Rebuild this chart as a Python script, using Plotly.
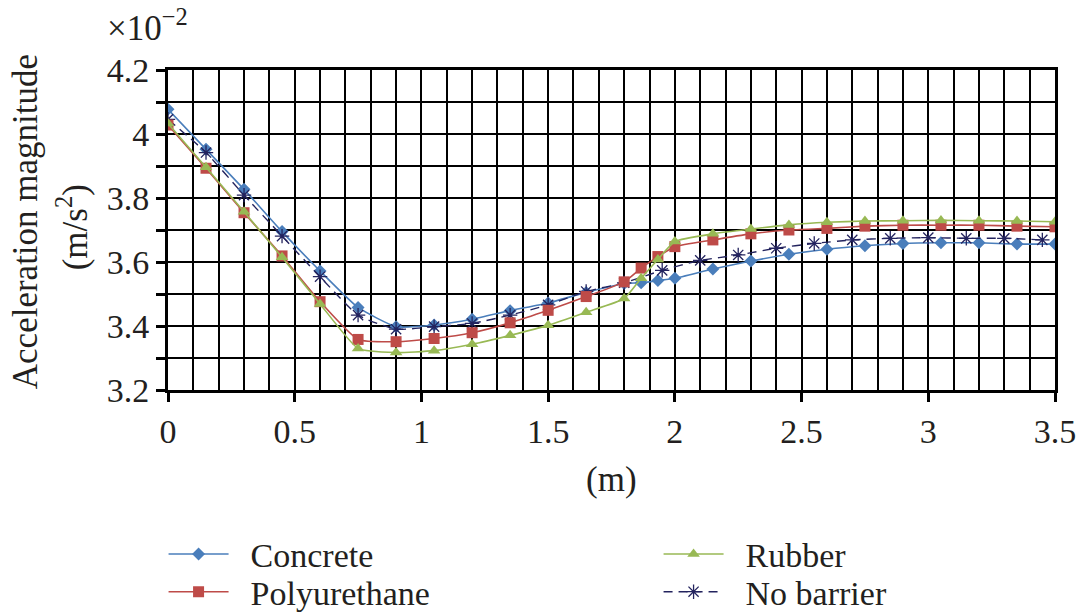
import plotly.graph_objects as go

# ---- data (values in units of 1e-2 m/s^2) ----
x_barrier = [0, 0.15, 0.3, 0.45, 0.6, 0.75, 0.9, 1.05, 1.2, 1.35, 1.5, 1.65, 1.8,
             1.867, 1.933, 2.0, 2.15, 2.3, 2.45, 2.6, 2.75, 2.9, 3.05, 3.2, 3.35, 3.5]
concrete = [4.077, 3.952, 3.827, 3.695, 3.572, 3.458, 3.398, 3.403, 3.421, 3.448, 3.472, 3.505, 3.533,
            3.535, 3.542, 3.549, 3.578, 3.603, 3.624, 3.640, 3.651, 3.658, 3.660, 3.660, 3.656, 3.656]
polyurethane = [4.028, 3.893, 3.754, 3.619, 3.476, 3.358, 3.351, 3.361, 3.379, 3.410, 3.449, 3.492, 3.538,
                3.581, 3.617, 3.648, 3.669, 3.688, 3.700, 3.705, 3.712, 3.715, 3.715, 3.715, 3.712, 3.710]
rubber = [4.033, 3.896, 3.757, 3.615, 3.469, 3.330, 3.317, 3.323, 3.343, 3.371, 3.402, 3.443, 3.486,
          3.549, 3.608, 3.664, 3.688, 3.703, 3.716, 3.724, 3.728, 3.729, 3.730, 3.729, 3.728, 3.726]
x_none = [0, 0.15, 0.3, 0.45, 0.6, 0.75, 0.9, 1.05, 1.2, 1.35, 1.5, 1.65, 1.8,
          1.95, 2.1, 2.25, 2.4, 2.55, 2.7, 2.85, 3.0, 3.15, 3.3, 3.45]
no_barrier = [4.046, 3.942, 3.809, 3.681, 3.554, 3.434, 3.390, 3.398, 3.408, 3.434, 3.466, 3.508, 3.535,
              3.574, 3.605, 3.622, 3.643, 3.658, 3.669, 3.674, 3.676, 3.674, 3.674, 3.669]

FONT = "Liberation Serif"
TXT = "#231F20"
PAD = "\u00a0\u00a0"

fig = go.Figure()
fig.add_trace(go.Scatter(x=x_barrier, y=concrete, name=PAD + "Concrete", mode="lines+markers",
                         line=dict(color="#4A7EBB", width=1.6, shape="spline", smoothing=0.5),
                         marker=dict(symbol="diamond", size=10, color="#4A7EBB"),
                         legend="legend", legendrank=1))
fig.add_trace(go.Scatter(x=x_none, y=no_barrier, name=PAD + "No barrier", mode="lines+markers",
                         line=dict(color="#23235E", width=1.4, dash="9px,6px", shape="spline", smoothing=0.5),
                         marker=dict(symbol="asterisk-open", size=12, color="#23235E",
                                     line=dict(width=1.3, color="#23235E")),
                         legend="legend2", legendrank=2, legendwidth=200))
fig.add_trace(go.Scatter(x=x_barrier, y=polyurethane, name=PAD + "Polyurethane", mode="lines+markers",
                         line=dict(color="#BE4B48", width=1.6, shape="spline", smoothing=0.5),
                         marker=dict(symbol="square", size=11, color="#BE4B48"),
                         legend="legend2", legendrank=1))
fig.add_trace(go.Scatter(x=x_barrier, y=rubber, name=PAD + "Rubber", mode="lines+markers",
                         line=dict(color="#98B954", width=1.6, shape="spline", smoothing=0.5),
                         marker=dict(symbol="triangle-up", size=11, color="#98B954"),
                         legend="legend", legendrank=2, legendwidth=200))

leg_common = dict(orientation="h", x=-0.005, xanchor="left", yanchor="top",
                  itemwidth=60, entrywidth=420, entrywidthmode="pixels",
                  font=dict(family=FONT, size=34, color=TXT), bgcolor="rgba(0,0,0,0)",
                  tracegroupgap=0)

fig.update_layout(
    width=1085, height=615,
    margin=dict(l=168, r=30, t=70, b=225, autoexpand=False),
    paper_bgcolor="white", plot_bgcolor="white",
    font=dict(family=FONT, size=34, color=TXT),
    showlegend=True,
    legend=dict(y=-0.423, **leg_common),
    legend2=dict(y=-0.541, **leg_common),
    xaxis=dict(range=[0, 3.5], dtick=0.5, tick0=0, ticks="outside", ticklen=9, tickwidth=2.5,
               tickcolor="black", showline=True, linecolor="black", linewidth=3, mirror=True,
               showgrid=True, gridcolor="black", gridwidth=1.6, zeroline=False,
               minor=dict(dtick=0.1, tick0=0, showgrid=True, gridcolor="black", gridwidth=1.6, ticks=""),
               tickfont=dict(family=FONT, size=34, color=TXT)),
    yaxis=dict(range=[3.2, 4.2], dtick=0.2, tick0=3.2, ticks="outside", ticklen=9, tickwidth=2.5,
               tickcolor="black", showline=True, linecolor="black", linewidth=3, mirror=True,
               showgrid=True, gridcolor="black", gridwidth=1.6, zeroline=False,
               minor=dict(dtick=0.1, tick0=3.2, showgrid=True, gridcolor="black", gridwidth=1.6,
                          ticks="outside", ticklen=9, tickwidth=2.5, tickcolor="black"),
               tickfont=dict(family=FONT, size=34, color=TXT)),
    annotations=[
        dict(text="×10<sup>−2</sup>", xref="paper", yref="paper", x=-0.071, y=1.14,
             xanchor="left", yanchor="middle", showarrow=False,
             font=dict(family=FONT, size=35, color=TXT)),
        dict(text="Acceleration magnitude", xref="paper", yref="paper", x=-0.161, y=0.525,
             xanchor="center", yanchor="middle", textangle=-90, showarrow=False,
             font=dict(family=FONT, size=35, color=TXT)),
        dict(text="(m/s<sup>2</sup>)", xref="paper", yref="paper", x=-0.108, y=0.509,
             xanchor="center", yanchor="middle", textangle=-90, showarrow=False,
             font=dict(family=FONT, size=35, color=TXT)),
        dict(text="(m)", xref="paper", yref="paper", x=0.5, y=-0.28,
             xanchor="center", yanchor="middle", showarrow=False,
             font=dict(family=FONT, size=35, color=TXT)),
    ],
)

fig.write_html("out.html")
